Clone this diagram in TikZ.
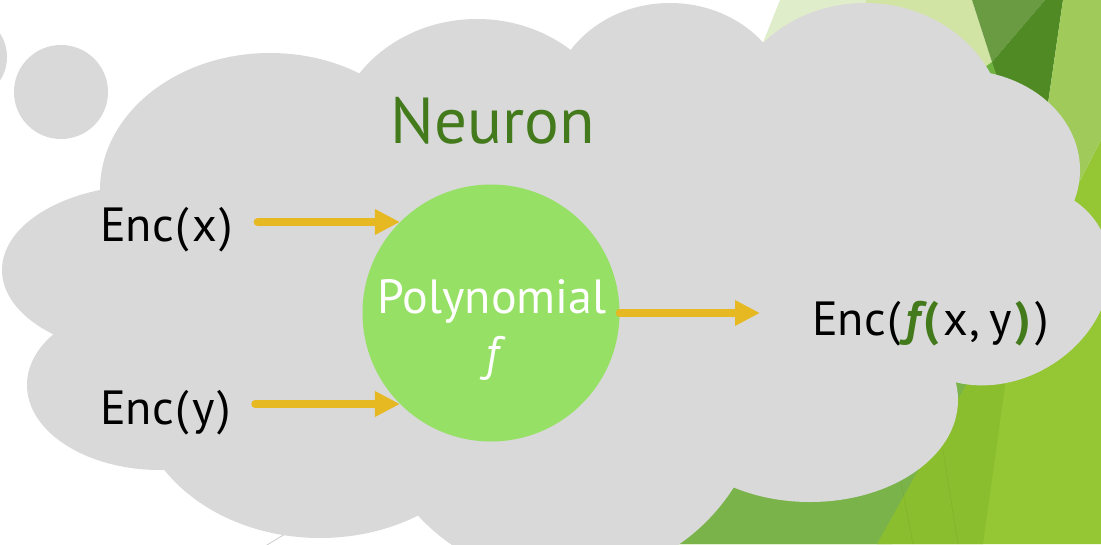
\documentclass[tikz,border=0pt]{standalone}
\usepackage{fontspec}
\setmainfont{PT Sans}
\usetikzlibrary{arrows.meta}

\definecolor{cloudgrey}{HTML}{D9D9D9}
\definecolor{polygreen}{HTML}{95E065}
\definecolor{neurongreen}{HTML}{437A1C}
\definecolor{arrowgold}{HTML}{E6B821}
% facet background colours
\definecolor{facetpale}{HTML}{E0EDCB}
\definecolor{facetlight}{HTML}{D1E4A4}
\definecolor{facetolive}{HTML}{6A9A42}
\definecolor{facetdark}{HTML}{4F8A24}
\definecolor{facetmid}{HTML}{6FB240}
\definecolor{facetright}{HTML}{A0CB5B}
\definecolor{facetmoss}{HTML}{7AB34A}
\definecolor{facetlime}{HTML}{8BBE2E}
\definecolor{facetyellow}{HTML}{95C634}

\tikzset{
  arr/.style={line width=8pt, draw=arrowgold, line cap=round,
              -{Triangle[length=25pt,width=24pt]}},
  bigtext/.style={inner sep=0pt, font=\fontsize{48pt}{57pt}\selectfont},
}
% green, bold pieces of the output label
\newcommand{\gf}{{\color{neurongreen}\bfseries\itshape f}}
\newcommand{\gp}[1]{{\color{neurongreen}\bfseries #1}}

\begin{document}
\begin{tikzpicture}[x=1pt,y=-1pt]
\useasboundingbox (0,0) rectangle (1101,544);
\clip (0,0) rectangle (1101,544);
\fill[white] (0,0) rectangle (1101,544);

% --- facet triangles on the right ---
\fill[facetpale]   (780,0) -- (866,0) -- (840,150) -- (720,150) -- cycle;
\fill[facetlight]  (866,0) -- (972,0) -- (992,62) -- (985,75) -- (900,150) -- (840,150) -- cycle;
\fill[facetolive]  (972,0) -- (1045,0) -- (992,62) -- cycle;
\fill[facetdark]   (1045,0) -- (1063,0) -- (1034,200) -- (990,120) -- (992,62) -- cycle;
\fill[facetmid]    (978,72) -- (992,62) -- (1005,100) -- (975,100) -- cycle;
\fill[facetyellow] (1101,140) -- (1101,544) -- (600,544) -- (760,330) -- (1034,200) -- (1070,200) -- cycle;
\fill[facetright]  (1063,0) -- (1101,0) -- (1101,140) -- (1070,200) -- (1034,200) -- cycle;
\fill[facetmoss]   (600,544) -- (760,330) -- (1025,290) -- (892,544) -- cycle;
\fill[facetlime]   (877,544) -- (1018,292) -- (983,544) -- cycle;
\draw[facetlime!85!black, line width=0.6pt, opacity=0.4] (900,477) -- (913,544);
\draw[facetlime!85!black, line width=0.6pt, opacity=0.4] (943,450) -- (958,544);
\draw[black!20, line width=0.8pt] (262,548) -- (300,525);

% --- thought cloud ---
\begin{scope}[fill=cloudgrey]
  \fill (-36,57) circle [radius=43pt];
  \fill (61,92) circle [radius=47pt];
  \fill (580,280) ellipse [x radius=420pt, y radius=170pt];
  \fill (270,190) ellipse [x radius=170pt, y radius=137pt];
  \fill (477,150) ellipse [x radius=145pt, y radius=131pt];
  \fill (670,110) ellipse [x radius=120pt, y radius=107pt];
  \fill (865,130) ellipse [x radius=140pt, y radius=127pt];
  \fill (960,170) ellipse [x radius=120pt, y radius=100pt];
  \fill[rotate around={30:(1000,285)}] (1000,285) ellipse [x radius=115pt, y radius=95pt];
  \fill (810,400) ellipse [x radius=148pt, y radius=102pt];
  \fill (565,380) circle [radius=200pt];
  \fill (320,390) ellipse [x radius=185pt, y radius=148pt];
  \fill (160,385) ellipse [x radius=133pt, y radius=85pt];
  \fill (150,270) ellipse [x radius=148pt, y radius=85pt];
\end{scope}

% --- neuron contents ---
\node[inner sep=0pt, anchor=base, text=neurongreen,
      font=\fontsize{65pt}{70pt}\selectfont] (neuron) at (493,143) {Neuron};

\node[circle, fill=polygreen, inner sep=0pt, minimum size=257pt] (poly) at (491,313) {};
\node[bigtext, anchor=base, text=white] (polyname) at (492,313) {Polynomial};
\node[bigtext, anchor=base, text=white] (polyf) at (492,370) {\itshape f};

\node[bigtext, anchor=base west] (encx) at (100,241) {Enc\kern2pt(\kern3pt x\kern3pt)};
\node[bigtext, anchor=base west] (ency) at (100,424) {Enc\kern2pt(\kern3pt y\kern3pt)};
\node[bigtext, anchor=base west] (out) at (812,335)
  {Enc\kern2pt(\kern4pt\gf\kern4pt\gp{(}\kern4pt x\kern2pt,\kern9pt y\kern4pt\gp{)}\kern4pt)};

\draw[arr, shorten <=24pt] (encx.east |- poly.135) -- (poly.135);
\draw[arr, shorten <=24pt] (ency.east |- poly.225) -- (poly.225);
\draw[arr, shorten >=52pt] (poly) -- (poly -| out.west);
\end{tikzpicture}
\end{document}
